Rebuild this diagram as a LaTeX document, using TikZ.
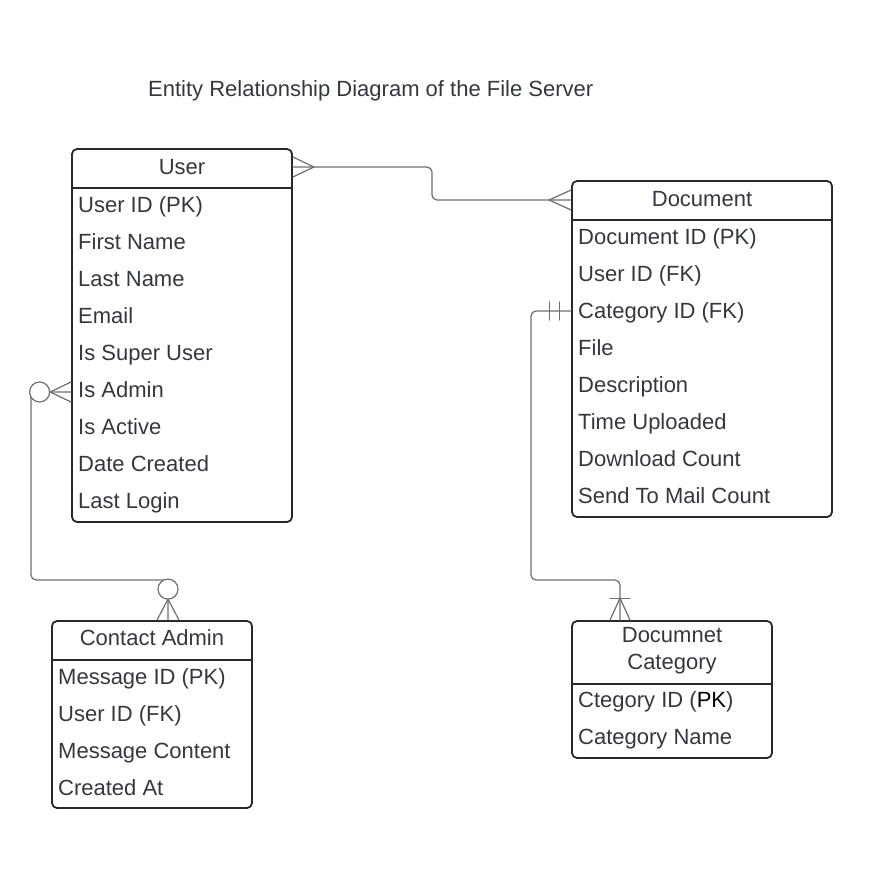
\documentclass[tikz,border=0pt]{standalone}
\usepackage{fontspec}
\setmainfont{Liberation Sans}
\usetikzlibrary{calc}
\definecolor{TextGray}{RGB}{51,56,64}
\definecolor{BoxLine}{RGB}{40,40,40}
\definecolor{LinkGray}{RGB}{110,110,110}

\begin{document}
\begin{tikzpicture}[line cap=round,line join=round,x=1pt,y=-1pt,
  entity/.style={draw=BoxLine,line width=1.8pt,rounded corners=5pt,inner sep=0pt},
  field/.style={anchor=west,text=TextGray,inner sep=0pt,text height=20pt,
    text depth=6pt,font=\fontsize{22}{26}\selectfont},
  head/.style={field,anchor=center},
  divider/.style={draw=BoxLine,line width=1.8pt,line cap=butt,
    shorten <=0.9pt,shorten >=0.9pt},
  link/.style={draw=LinkGray,line width=1.2pt}]
  \useasboundingbox (0,0) rectangle (872,870);
  \node[field] (title) at (148,89) {Entity Relationship Diagram of the File Server};
  % User
  \node[entity,minimum width=220pt,minimum height=373pt] (user) at (182,335.5) {};
  \node[head] (uh) at (182,167) {User};
  \draw[divider] (user.west |- 0,188) -- (user.east |- 0,188);
  \foreach \t [count=\i] in {User ID (PK),First Name,Last Name,Email,Is Super User,
    Is Admin,Is Active,Date Created,Last Login}
    \node[field] (u\i) at (78,168+37*\i) {\t};
  % Document
  \node[entity,minimum width=260pt,minimum height=336pt] (doc) at (702,349) {};
  \node[head] (dh) at (702,199) {Document};
  \draw[divider] (doc.west |- 0,220) -- (doc.east |- 0,220);
  \foreach \t [count=\i] in {Document ID (PK),User ID (FK),Category ID (FK),File,
    Description,Time Uploaded,Download Count,Send To Mail Count}
    \node[field] (d\i) at (578,200+37*\i) {\t};
  % Contact Admin
  \node[entity,minimum width=200pt,minimum height=187pt] (ca) at (152,714.5) {};
  \node[head] (cah) at (152,638) {Contact Admin};
  \draw[divider] (ca.west |- 0,660) -- (ca.east |- 0,660);
  \foreach \t [count=\i] in {Message ID (PK),User ID (FK),Message Content,Created At}
    \node[field] (c\i) at (58,640+37*\i) {\t};
  % Documnet Category
  \node[entity,minimum width=200pt,minimum height=137pt] (cat) at (672,689.5) {};
  \node[text=TextGray,inner sep=0pt,align=center,font=\fontsize{22}{27}\selectfont]
    (cath) at (672,650.5) {Documnet\\Category};
  \draw[divider] (cat.west |- 0,684) -- (cat.east |- 0,684);
  \node[field] (k1) at (578,700) {Ctegory ID (\textcolor{black}{PK})};
  \node[field] (k2) at (578,737) {Category Name};

  % User -- Document (many to many)
  \draw[link,rounded corners=5pt] (user.east |- uh) -- (432,167) -- (432,200) -- (doc.west |- 0,200);
  \draw[link] ($(user.east |- uh)+(0,-10)$) -- ++(21,10) -- ++(-21,10);
  \draw[link] ($(doc.west |- 0,200)+(0,-10)$) -- ++(-22,10) -- ++(22,10);
  % User -- Contact Admin (zero or many)
  \draw[link,rounded corners=5pt] (user.west |- 0,392) -- (31,392) -- (31,580) -- (168,580)
    -- ($(ca.north)+(16,0)$);
  \draw[link] ($(user.west |- 0,392)+(0,-10)$) -- ++(-21,10) -- ++(21,10);
  \draw[link,fill=white] ($(user.west |- 0,392)+(-31.5,0)$) circle (10pt);
  \draw[link] ($(ca.north)+(5,0)$) -- ($(ca.north)+(16,-21)$) -- ($(ca.north)+(27,0)$);
  \draw[link,fill=white] ($(ca.north)+(16,-31)$) circle (10pt);
  % Document -- Documnet Category (one to one or many)
  \draw[link,rounded corners=5pt] (doc.west |- d3) -- (531,311) -- (531,580) -- (620,580)
    -- ($(cat.north)+(-52,0)$);
  \draw[link] ($(doc.west |- d3)+(-12,-9)$) -- ++(0,18);
  \draw[link] ($(doc.west |- d3)+(-22,-9)$) -- ++(0,18);
  \draw[link] ($(cat.north)+(-62,-22)$) -- ++(20,0);
  \draw[link] ($(cat.north)+(-62,0)$) -- ($(cat.north)+(-52,-22)$) -- ($(cat.north)+(-42,0)$);
\end{tikzpicture}
\end{document}
